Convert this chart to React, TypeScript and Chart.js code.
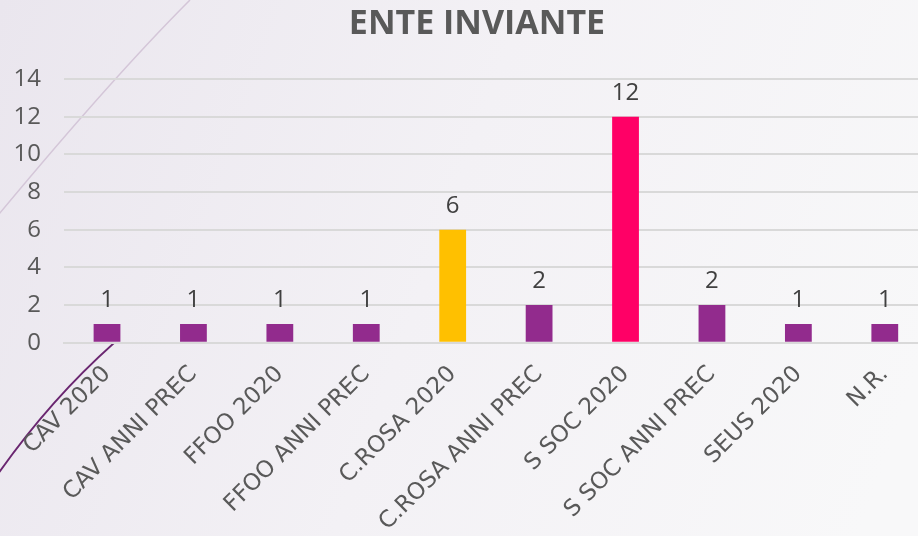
import React, { useEffect, useRef } from "react";
import { Chart, registerables } from "chart.js";

Chart.register(...registerables);

const chartTitle = "ENTE INVIANTE";
const categories = [
  "CAV 2020",
  "CAV ANNI PREC",
  "FFOO 2020",
  "FFOO ANNI PREC",
  "C.ROSA 2020",
  "C.ROSA ANNI PREC",
  "S SOC 2020",
  "S SOC ANNI PREC",
  "SEUS 2020",
  "N.R.",
];
const values = [1, 1, 1, 1, 6, 2, 12, 2, 1, 1];
const barColors = [
  "#922B8D",
  "#922B8D",
  "#922B8D",
  "#922B8D",
  "#FFC000",
  "#922B8D",
  "#FF0066",
  "#922B8D",
  "#922B8D",
  "#922B8D",
];
const yMin = 0;
const yMax = 14;
const yStep = 2;

const FONT = "'Open Sans', 'DejaVu Sans', sans-serif";
const XFONT = "'DejaVu Sans', sans-serif";
const TEXT = "#595959";

const bgPlugin = {
  id: "bgPlugin",
  beforeDraw(chart: any) {
    const { ctx, width, height } = chart;
    ctx.save();
    const g = ctx.createLinearGradient(0, 0, width, height * 0.6);
    g.addColorStop(0, "#EAE6EE");
    g.addColorStop(0.5, "#F3F1F5");
    g.addColorStop(1, "#F8F8F9");
    ctx.fillStyle = g;
    ctx.fillRect(0, 0, width, height);
    ctx.strokeStyle = "#D4C6D8";
    ctx.lineWidth = 1.5;
    ctx.beginPath();
    ctx.moveTo(190, 0);
    ctx.quadraticCurveTo(110, 80, -10, 225);
    ctx.stroke();
    ctx.strokeStyle = "#6A2670";
    ctx.lineWidth = 1.8;
    ctx.beginPath();
    ctx.moveTo(114, 343);
    ctx.quadraticCurveTo(50, 400, -2, 474);
    ctx.stroke();
    ctx.restore();
  },
};

const overlayPlugin = {
  id: "overlayPlugin",
  afterDraw(chart: any) {
    const { ctx } = chart;
    ctx.save();
    ctx.fillStyle = TEXT;
    ctx.font = `bold 34px ${FONT}`;
    ctx.textAlign = "center";
    ctx.textBaseline = "middle";
    ctx.fillText(chartTitle, 477, 24);
    ctx.restore();
  },
  afterDatasetsDraw(chart: any) {
    const { ctx } = chart;
    const meta = chart.getDatasetMeta(0);
    ctx.save();
    ctx.fillStyle = "#404040";
    ctx.font = `24px ${FONT}`;
    ctx.textAlign = "center";
    ctx.textBaseline = "alphabetic";
    meta.data.forEach((bar: any, i: number) => {
      ctx.fillText(String(values[i]), bar.x, bar.y - 17);
    });
    ctx.restore();
  },
};

export default function App() {
  const ref = useRef<HTMLCanvasElement | null>(null);
  useEffect(() => {
    if (!ref.current) return;
    const chart = new Chart(ref.current, {
      type: "bar",
      data: {
        labels: categories,
        datasets: [
          {
            data: values,
            backgroundColor: barColors,
            borderWidth: 0,
            barPercentage: 0.31,
            categoryPercentage: 1,
          },
        ],
      },
      options: {
        responsive: false,
        animation: false,
        layout: { padding: { top: 79, left: 13.6, right: 4, bottom: 0 } },
        plugins: {
          legend: { display: false },
          tooltip: { enabled: false },
          title: { display: false },
        },
        scales: {
          x: {
            grid: { display: false, drawTicks: false },
            border: { display: true, color: "#D9D9D9", width: 2 },
            afterFit: (scale: any) => {
              scale.paddingLeft = 0;
              scale.paddingRight = 0;
            },
            ticks: {
              color: TEXT,
              font: { family: XFONT, size: 23 },
              maxRotation: 45,
              minRotation: 45,
              padding: 18,
              autoSkip: false,
            },
          },
          y: {
            min: yMin,
            max: yMax,
            grid: { color: "#D9D9D9", lineWidth: 2, drawTicks: false },
            border: { display: false },
            afterFit: (scale: any) => {
              scale.width = 50.2;
            },
            ticks: {
              stepSize: yStep,
              color: TEXT,
              font: { family: FONT, size: 24 },
              padding: 22.8,
            },
          },
        },
      },
      plugins: [bgPlugin, overlayPlugin],
    });
    return () => chart.destroy();
  }, []);
  return (
    <div
      style={{
        position: "fixed",
        left: 0,
        top: 0,
        width: 918,
        height: 536,
        overflow: "hidden",
      }}
    >
      <canvas ref={ref} width={932} height={554} style={{ width: 932, height: 554, display: "block" }} />
    </div>
  );
}
